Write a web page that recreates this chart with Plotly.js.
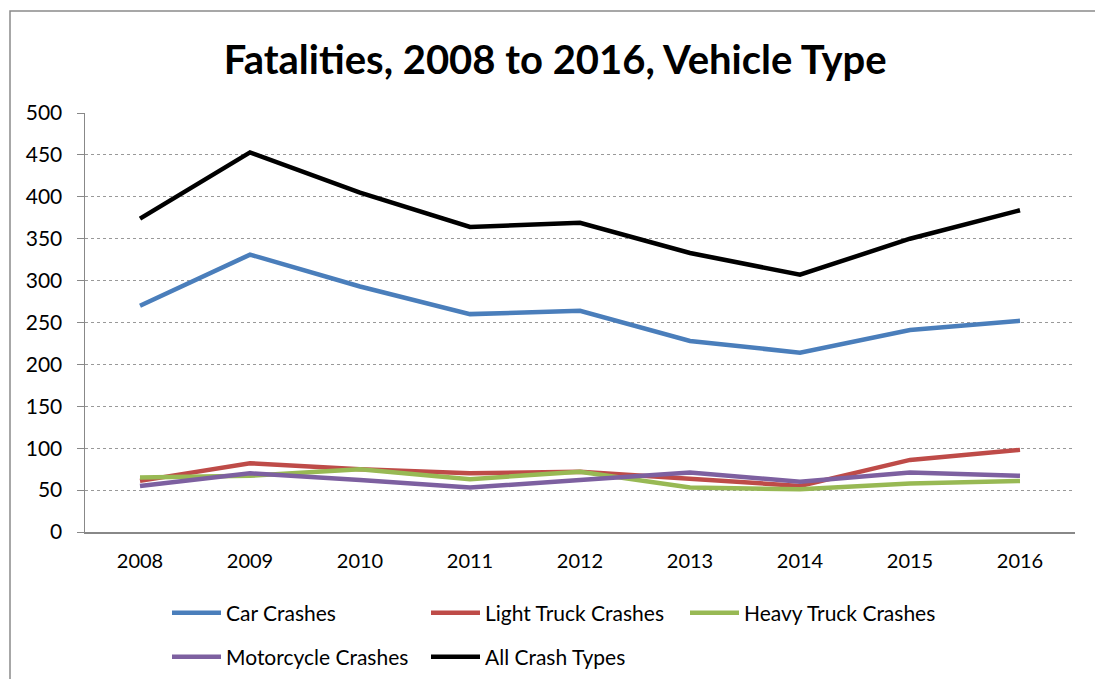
<!DOCTYPE html>
<html>
<head>
<meta charset="utf-8">
<script src="https://cdn.plot.ly/plotly-3.0.1.min.js"></script>
<style>
  html, body { margin: 0; padding: 0; background: #fff; }
  #chart { width: 1095px; height: 679px; }
  #chart text { font-variant-ligatures: none; }
</style>
</head>
<body>
<div id="chart"></div>
<script>
// years on the category axis
let years = ['2008', '2009', '2010', '2011', '2012', '2013', '2014', '2015', '2016'];

// fatalities per vehicle type
let carCrashes        = [270, 331, 293, 260, 264, 228, 214, 241, 252];
let lightTruckCrashes = [61, 82, 75, 70, 72, 63, 55, 86, 98];
let heavyTruckCrashes = [65, 67, 75, 63, 72, 53, 51, 58, 61];
let motorcycleCrashes = [55, 70, 62, 53, 62, 71, 60, 71, 67];
let allCrashTypes     = [374, 453, 405, 364, 369, 333, 307, 350, 384];

let yTicks = [0, 50, 100, 150, 200, 250, 300, 350, 400, 450, 500];

let font = 'Lato, "Open Sans", sans-serif';

function line(name, y, color, legend){
    return {
        mode: 'lines',
        type: 'scatter',
        name: name,
        x: years,
        y: y,
        legend: legend,
        line: { color: color, width: 4.5 }
    };
}

let traces = [
    line('Car Crashes', carCrashes, '#4A7EBB', 'legend'),
    line('Light Truck Crashes', lightTruckCrashes, '#BE4B48', 'legend'),
    line('Heavy Truck Crashes', heavyTruckCrashes, '#98B954', 'legend'),
    line('Motorcycle Crashes', motorcycleCrashes, '#7D60A0', 'legend2'),
    line('All Crash Types', allCrashTypes, '#000000', 'legend2')
];

let legendStyle = {
    orientation: 'h',
    xref: 'container',
    yref: 'container',
    xanchor: 'left',
    yanchor: 'middle',
    x: 167 / 1095,
    entrywidth: 195,
    entrywidthmode: 'pixels',
    itemwidth: 49,
    font: { family: font, size: 21, color: '#000' },
    bgcolor: 'rgba(0,0,0,0)'
};

let layout = {
    width: 1095,
    height: 679,
    paper_bgcolor: '#fff',
    plot_bgcolor: '#fff',
    margin: { l: 85, r: 20, t: 113, b: 147 },
    font: { family: font, color: '#000' },
    title: {
        text: '<b>Fatalities, 2008 to 2016, Vehicle Type</b>',
        font: { family: font, size: 40, color: '#000' },
        x: 0.507,
        xanchor: 'center',
        y: 1 - 60 / 679,
        yanchor: 'middle'
    },
    xaxis: {
        type: 'category',
        range: [-0.5, 8.5],
        showgrid: false,
        showline: true,
        linecolor: '#888',
        linewidth: 1.5,
        ticks: '',
        tickfont: { family: font, size: 20, color: '#000' },
        ticklabelstandoff: 10,
        zeroline: false
    },
    yaxis: {
        range: [0, 500],
        tickvals: yTicks,
        showgrid: true,
        gridcolor: '#999',
        griddash: 'dot',
        gridwidth: 1,
        showline: true,
        linecolor: '#888',
        linewidth: 1.5,
        ticks: 'outside',
        ticklen: 7,
        tickcolor: '#888',
        tickfont: { family: font, size: 21, color: '#000' },
        ticklabelstandoff: 10,
        zeroline: false
    },
    legend: Object.assign({}, legendStyle, { y: 1 - 613 / 679 }),
    legend2: Object.assign({}, legendStyle, { y: 1 - 657 / 679 }),
    shapes: [{
        type: 'rect',
        xref: 'paper',
        yref: 'paper',
        x0: (10 - 85) / 990,
        x1: (1110 - 85) / 990,
        y0: (532 - 700) / 419,
        y1: (532 - 11) / 419,
        line: { color: '#8a8a8a', width: 1.5 },
        fillcolor: 'rgba(0,0,0,0)',
        layer: 'below'
    }]
};

Plotly.newPlot('chart', traces, layout, { displayModeBar: false, staticPlot: true });
</script>
</body>
</html>
